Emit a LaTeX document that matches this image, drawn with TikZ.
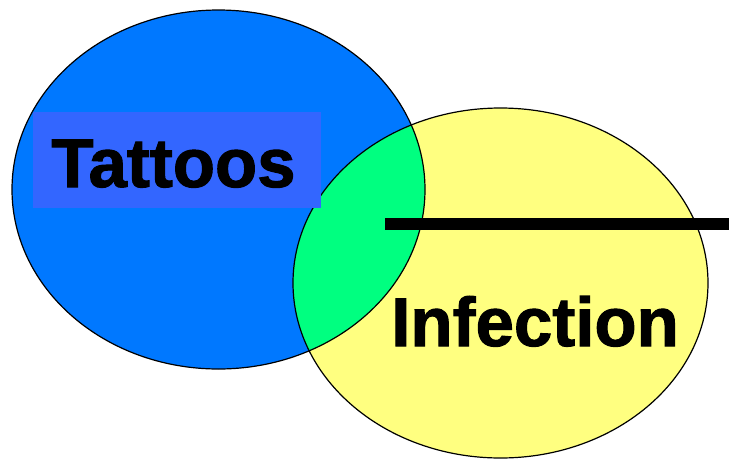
\documentclass[tikz,border=0pt]{standalone}
\usepackage{fontspec}
\setmainfont{Liberation Sans}
\newfontfamily\heavyfont[FakeBold=1.5]{Liberation Sans Bold}
\definecolor{tatblue}{RGB}{0,120,255}
\definecolor{tatbox}{RGB}{51,102,255}
\definecolor{infyellow}{RGB}{255,255,128}
\definecolor{overlapgreen}{RGB}{0,255,128}
\tikzset{
  setline/.style={draw=black, line width=1.2pt},
  bigword/.style={font=\fontsize{69}{80}\heavyfont, inner sep=0pt, anchor=base}
}
\begin{document}
\begin{tikzpicture}[x=1pt, y=-1pt]
        \useasboundingbox (0, 0) rectangle (729, 459);

        \fill[tatblue] (218.5, 189.5) ellipse [x radius=206.5pt, y radius=179.5pt];
        \fill[infyellow] (500.5, 283) ellipse [x radius=207.5pt, y radius=175pt];
        \begin{scope}
            \clip (218.5, 189.5) ellipse [x radius=206.5pt, y radius=179.5pt];
            \fill[overlapgreen] (500.5, 283) ellipse [x radius=207.5pt, y radius=175pt];
        \end{scope}
        \draw[setline] (218.5, 189.5) ellipse [x radius=206.5pt, y radius=179.5pt];
        \draw[setline] (500.5, 283) ellipse [x radius=207.5pt, y radius=175pt];

        \node[fill=tatbox, inner sep=0pt, minimum width=288pt, minimum height=96pt] (tatrect) at (177, 160) {};
        \node[bigword] (tattoos) at (173.5, 187) {Tattoos};
        \node[bigword] (infection) at (535, 346) {Infection};

        \coordinate (lineL) at (385, 224);
        \coordinate (lineR) at (729, 224);
        \draw[line width=12pt] (lineL) -- (lineR);
    \end{tikzpicture}
\end{document}
